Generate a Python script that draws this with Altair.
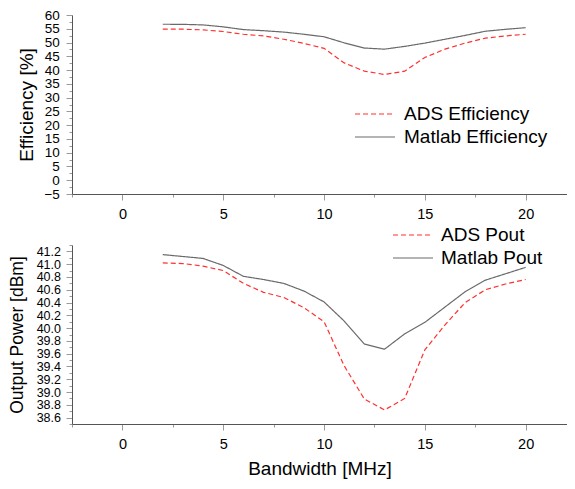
import altair as alt
import pandas as pd

bandwidth = [2, 3, 4, 5, 6, 7, 8, 9, 10, 11, 12, 13, 14, 15, 16, 17, 18, 19, 20]
ads_eff = [54.9, 54.85, 54.6, 54.0, 53.0, 52.4, 51.2, 49.7, 47.9, 42.6, 39.6, 38.4, 39.6, 44.6, 47.6, 49.8, 51.6, 52.4, 53.0]
matlab_eff = [56.65, 56.6, 56.4, 55.7, 54.7, 54.3, 53.8, 53.0, 52.1, 49.9, 48.0, 47.6, 48.6, 49.8, 51.2, 52.6, 54.1, 54.8, 55.4]
ads_pout = [41.02, 41.01, 40.97, 40.90, 40.70, 40.56, 40.48, 40.32, 40.10, 39.41, 38.89, 38.72, 38.90, 39.66, 40.05, 40.40, 40.60, 40.69, 40.76]
matlab_pout = [41.15, 41.12, 41.09, 40.98, 40.81, 40.76, 40.70, 40.58, 40.41, 40.11, 39.75, 39.67, 39.91, 40.09, 40.33, 40.57, 40.75, 40.85, 40.95]

eff_series = ["ADS Efficiency", "Matlab Efficiency"]
pout_series = ["ADS Pout", "Matlab Pout"]

x_ticks = [-2.5, 0, 2.5, 5, 7.5, 10, 12.5, 15, 17.5, 20]
eff_ticks = [v * 2.5 for v in range(-2, 25)]
pout_ticks = [round(38.5 + 0.1 * i, 1) for i in range(29)]

FONT = "Liberation Sans"
RED = "#ff3030"
GRAY = "#6a6a6a"
PLOT_W = 495
PLOT_H = 179


def long_df(a, b, names):
    rows = []
    for x, v in zip(bandwidth, a):
        rows.append({"bw": x, "val": v, "series": names[0]})
    for x, v in zip(bandwidth, b):
        rows.append({"bw": x, "val": v, "series": names[1]})
    return pd.DataFrame(rows)


def x_axis(title_on):
    kw = dict(
        values=x_ticks,
        labelExpr="datum.value % 5 === 0 && datum.value >= 0 && datum.value <= 20 ? datum.label : ''",
        format="d",
        tickSize={"condition": {"test": "datum.value % 5 === 0", "value": 6}, "value": 3},
        tickColor="#9a9a9a",
        domainColor="#555555",
        labelFontSize=14.5,
        labelPadding=7,
        labelFlush=False,
        labelOverlap=False,
        labelColor="black",
        grid=False,
    )
    if title_on:
        kw.update(title="Bandwidth [MHz]", titleFontSize=19, titleFontWeight="normal",
                  titlePadding=9, titleColor="black")
    else:
        kw.update(title=None)
    return alt.Axis(**kw)


def legend(ly, lx, loff):
    return alt.Legend(
        title=None, orient="none", legendX=lx, legendY=ly,
        symbolType="stroke", symbolSize=1600, symbolStrokeWidth=1.2,
        clipHeight=18, labelFontSize=19, labelOffset=loff, rowPadding=4,
        padding=0, labelColor="black",
    )


def panel(df, names, ydom, yticks, ylab_test, yfmt, ytitle, ytitle_size, ylab_size,
          y_lp, y_tp, leg, title_on):
    yaxis = alt.Axis(
        values=yticks,
        labelExpr=f"{ylab_test} ? datum.label : ''",
        format=yfmt,
        tickSize={"condition": {"test": ylab_test, "value": 6}, "value": 3},
        tickColor="#9a9a9a",
        domainColor="#555555",
        labelFontSize=ylab_size,
        labelPadding=y_lp,
        labelOverlap=False,
        labelColor="black",
        title=ytitle,
        titleFontSize=ytitle_size,
        titleFontWeight="normal",
        titlePadding=y_tp,
        titleColor="black",
        grid=False,
    )
    return alt.Chart(df).mark_line(strokeWidth=1.2).encode(
        x=alt.X("bw:Q", scale=alt.Scale(domain=[-2.5, 22.05], nice=False, zero=False),
                axis=x_axis(title_on)),
        y=alt.Y("val:Q", scale=alt.Scale(domain=ydom, nice=False, zero=False), axis=yaxis),
        color=alt.Color("series:N", scale=alt.Scale(domain=names, range=[RED, GRAY]), legend=leg),
        strokeDash=alt.StrokeDash("series:N", scale=alt.Scale(domain=names, range=[[5, 3], [1, 0]]),
                                  legend=leg),
    ).properties(width=PLOT_W, height=PLOT_H)


top = panel(long_df(ads_eff, matlab_eff, eff_series), eff_series, [-5, 60], eff_ticks,
            "datum.value % 5 === 0", "d", "Efficiency [%]", 19, 13.5, 6.7, 7,
            legend(90, 282, 8), False)
bottom = panel(long_df(ads_pout, matlab_pout, pout_series), pout_series, [38.5, 41.3], pout_ticks,
               "abs(round(datum.value * 10)) % 2 === 0", ".1f", "Output Power [dBm]", 17.5, 12.5, 5.5, 9.4,
               legend(-19, 320, 7), True)

chart = alt.vconcat(top, bottom, spacing=51, bounds="flush").resolve_scale(
    color="independent", strokeDash="independent"
).properties(
    padding={"left": 0, "top": 0, "right": 0, "bottom": 0}
).configure(font=FONT).configure_view(stroke=None)

chart.save("out.html", embed_options={"renderer": "svg", "actions": False})
